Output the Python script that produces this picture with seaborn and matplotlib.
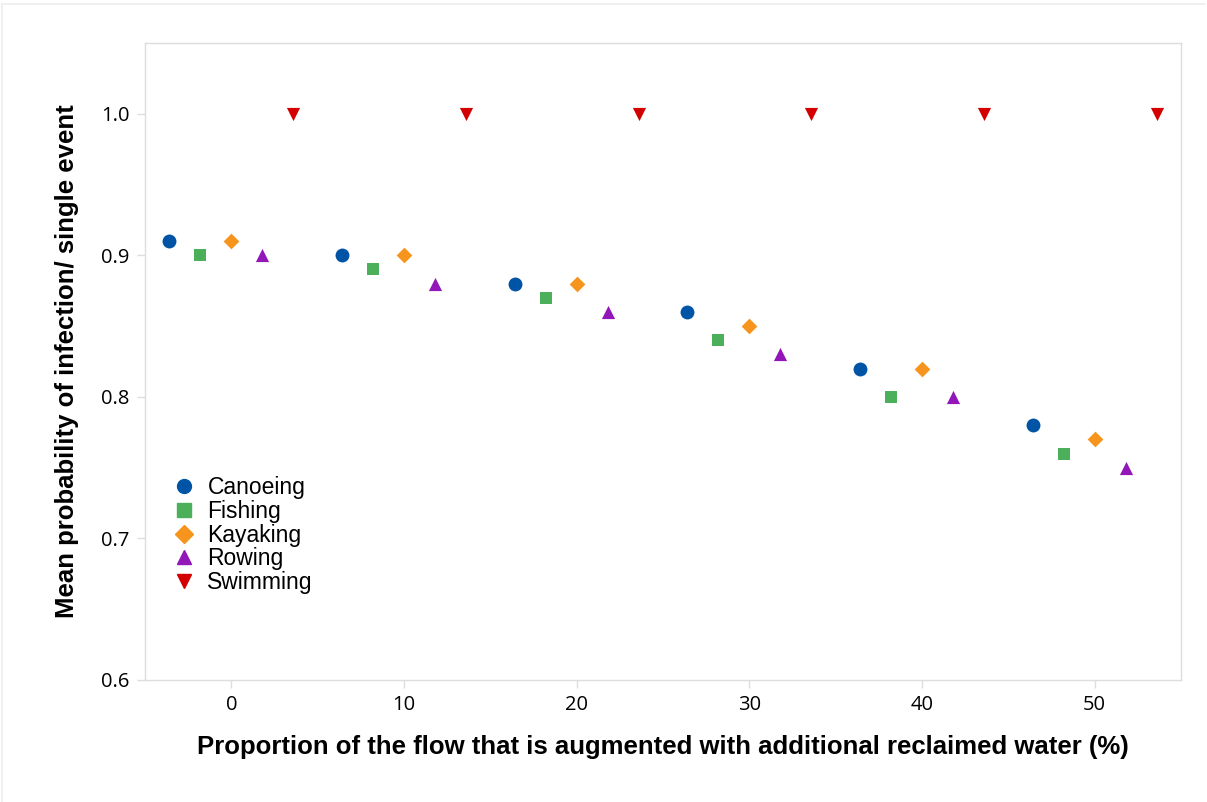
import numpy as np
import pandas as pd
import seaborn as sns
import matplotlib.pyplot as plt
from matplotlib.lines import Line2D

# data
flow_pct = [0, 10, 20, 30, 40, 50]
activities = ["Canoeing", "Fishing", "Kayaking", "Rowing", "Swimming"]
canoeing = [0.91, 0.90, 0.88, 0.86, 0.82, 0.78]
fishing = [0.90, 0.89, 0.87, 0.84, 0.80, 0.76]
kayaking = [0.91, 0.90, 0.88, 0.85, 0.82, 0.77]
rowing = [0.90, 0.88, 0.86, 0.83, 0.80, 0.75]
swimming = [1.0, 1.0, 1.0, 1.0, 1.0, 1.0]
dodge = [-3.6, -1.8, 0.0, 1.8, 3.6]  # horizontal offset per group

colors = {"Canoeing": "#0054a6", "Fishing": "#4cb05a", "Kayaking": "#f7941d",
          "Rowing": "#9216b8", "Swimming": "#d40000"}
markers = {"Canoeing": "o", "Fishing": "s", "Kayaking": "D",
           "Rowing": "^", "Swimming": "v"}
sizes = {"Canoeing": 100, "Fishing": 72, "Kayaking": 64, "Rowing": 90, "Swimming": 90}

values = [canoeing, fishing, kayaking, rowing, swimming]
rows = []
for act, vals, off in zip(activities, values, dodge):
    for x, v in zip(flow_pct, vals):
        rows.append({"activity": act, "x": x + off, "prob": v})
df = pd.DataFrame(rows)

sns.set_style("white")
plt.rcParams["font.family"] = ["Open Sans", "DejaVu Sans"]

fig = plt.figure(figsize=(12.07, 8.02), dpi=100)
ax = fig.add_axes([145 / 1207, 1 - 680 / 802, (1181 - 145) / 1207, (680 - 43) / 802])

for act in activities:
    sub = df[df["activity"] == act]
    sns.scatterplot(data=sub, x="x", y="prob", ax=ax, color=colors[act],
                    marker=markers[act], s=sizes[act], linewidth=0, label=act)

ax.set_xlim(-5, 55)
ax.set_ylim(0.6, 1.05)
ax.set_xticks([0, 10, 20, 30, 40, 50])
ax.set_yticks([0.6, 0.7, 0.8, 0.9, 1.0])
ax.set_yticklabels(["0.6", "0.7", "0.8", "0.9", "1.0"])
ax.tick_params(axis="both", bottom=True, left=True, length=6, width=1,
               color="#dddddd", labelsize=14.5, labelcolor="#000000",
               direction="out", pad=5)
for sp in ax.spines.values():
    sp.set_color("#dddddd")
    sp.set_linewidth(1)

ax.set_xlabel("Proportion of the flow that is augmented with additional reclaimed water (%)",
              fontsize=18.5, fontweight="bold", family="Liberation Sans", labelpad=14,
              color="black")
ax.set_ylabel("Mean probability of infection/ single event",
              fontsize=18.5, fontweight="bold", family="Liberation Sans", labelpad=16,
              color="black")

handles = [Line2D([], [], linestyle="none", marker=markers[a], color=colors[a],
                  markersize=10 if a != "Kayaking" else 9) for a in activities]
leg = ax.legend(handles, activities, loc="upper left", bbox_to_anchor=(0.016, 0.334),
                frameon=False, prop={"family": "Liberation Sans", "size": 16.5},
                handletextpad=0.4, labelspacing=0.03, handlelength=1.2, borderaxespad=0)
for t in leg.get_texts():
    t.set_color("black")

# faint frame around the figure
fig.add_artist(Line2D([2 / 1207, 1205 / 1207], [1 - 4 / 802, 1 - 4 / 802],
                      color="#eeeeee", lw=1.2, transform=fig.transFigure))
fig.add_artist(Line2D([2 / 1207, 2 / 1207], [0, 1 - 4 / 802],
                      color="#eeeeee", lw=1.2, transform=fig.transFigure))

fig.savefig("out.png", dpi=100)
